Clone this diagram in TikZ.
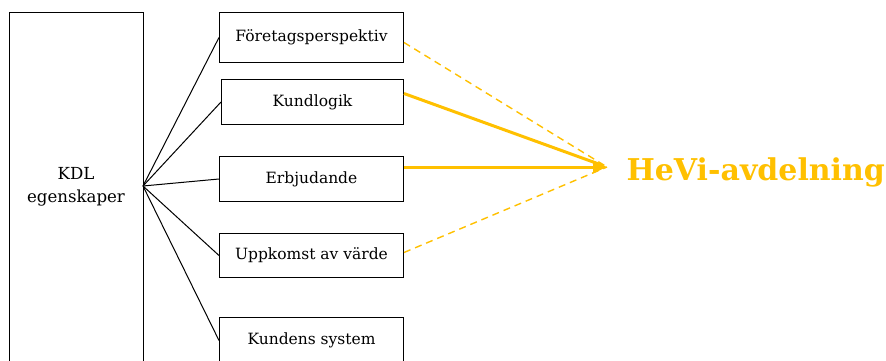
\documentclass[tikz,border=0pt]{standalone}
\usepackage{fontspec}
\setmainfont{DejaVu Serif}
\usepackage{xcolor}
\usetikzlibrary{arrows.meta,positioning}

\definecolor{hevigul}{HTML}{FFC000}

\begin{document}
\begin{tikzpicture}[x=1pt,y=-1pt,
    ruta/.style={draw, line width=1pt, anchor=north west, minimum width=184pt, minimum height=45pt,
      inner sep=0pt, font=\fontsize{15.5}{22}\selectfont},
    gren/.style={line width=1pt},
    stark/.style={draw=hevigul, line width=3pt},
    svag/.style={draw=hevigul, line width=1.4pt, dash pattern=on 7pt off 5pt}]
    \useasboundingbox (0,0) rectangle (886,361);
    \clip (0,0) rectangle (886,361);
    % vänstra rutan
    \node[ruta, minimum width=134pt, minimum height=400pt] (kdl) at (9,12) {};
    \node[align=center, font=\fontsize{16.6}{23}\selectfont] (kdltxt) at (76,187) {KDL\\egenskaper};
    \coordinate (fan) at (143,186);
    % mittkolumnen
    \node[ruta, minimum height=50pt] (foretag) at (219,12) {Företagsperspektiv};
    \node[ruta, minimum width=182pt] (kundlogik) at (221,79) {Kundlogik};
    \node[ruta] (erbjud) at (219,156) {Erbjudande};
    \node[ruta, minimum height=44pt] (uppkomst) at (219,233) {Uppkomst av värde};
    \node[ruta, minimum height=46pt] (kundsys) at (219,317) {Kundens system};
    \foreach \b in {foretag,kundlogik,erbjud,uppkomst,kundsys}
        \draw[gren] (fan) -- (\b.west);
    % mot HeVi
    \coordinate (mal) at (607,167);
    \node[anchor=west, text=hevigul, font=\fontsize{30}{34}\selectfont\bfseries] (hevi) at (623,172) {HeVi-avdelning};
    \draw[svag] ([yshift=-5pt]foretag.east) -- (mal);
    \draw[svag] ([yshift=3pt]uppkomst.east) -- (mal);
    \draw[stark, shorten >=4pt] ([yshift=8.5pt]kundlogik.east) -- (mal);
    \draw[stark, -{Triangle[length=14pt, width=12pt]}] (erbjud.east |- mal) -- (mal);
\end{tikzpicture}
\end{document}
